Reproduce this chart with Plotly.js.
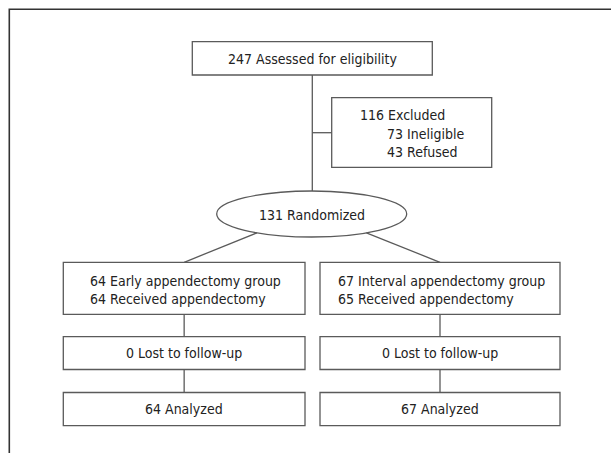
<!DOCTYPE html>
<html>
<head>
<meta charset="utf-8">
<script src="https://cdn.plot.ly/plotly-3.0.1.min.js"></script>
<style>
  html, body { margin: 0; padding: 0; background: #ffffff; }
  #chart { width: 611px; height: 453px; }
</style>
</head>
<body>
<div id="chart"></div>
<script>
// ---- Data (counts) ----
const stageLabels = ["Assessed for eligibility", "Excluded", "Randomized"];
const stageCounts = [247, 116, 131];
const exclusionLabels = ["Ineligible", "Refused"];
const exclusionCounts = [73, 43];
const groupLabels = ["Early appendectomy group", "Interval appendectomy group"];
const groupCounts = [64, 67];
const receivedLabel = "Received appendectomy";
const receivedCounts = [64, 65];
const lostLabel = "Lost to follow-up";
const lostCounts = [0, 0];
const analyzedLabel = "Analyzed";
const analyzedCounts = [64, 67];

// ---- Layout geometry (pixel space of the 611x453 figure) ----
const FONT = { family: '"DejaVu Sans Condensed", "DejaVu Sans", sans-serif', size: 14, color: '#222222' };
const BOX_LINE = { color: '#5a5a5a', width: 1.3 };
const topBox = { x0: 192.3, x1: 432.3, y0: 41.7, y1: 75 };
const exclBox = { x0: 331.7, x1: 491.7, y0: 97.7, y1: 167.3 };
const ell = { cx: 311.7, cy: 214, rx: 95, ry: 23 };
const colX = [[63.3, 305], [320, 560]];
const rowY = [[262.3, 314.3], [336.7, 369.5], [392.5, 425.7]];
const spineX = 312.3;

const shapes = [];
const annotations = [];

function rect(b) {
  shapes.push({ type: 'rect', xref: 'x', yref: 'y', x0: b.x0, x1: b.x1, y0: b.y0, y1: b.y1, line: BOX_LINE, fillcolor: 'rgba(0,0,0,0)' });
}
function line(x0, y0, x1, y1, ln) {
  shapes.push({ type: 'line', xref: 'x', yref: 'y', x0, y0, x1, y1, line: ln || BOX_LINE });
}
function label(text, x, y, anchor) {
  annotations.push({ xref: 'x', yref: 'y', x, y, text, showarrow: false, borderpad: 0, xanchor: anchor || 'center', yanchor: 'middle', font: FONT });
}

// outer frame (top and left rules)
shapes.push({ type: 'path', xref: 'x', yref: 'y', path: 'M9.3,470 L9.3,9.3 L630,9.3', line: { color: '#333333', width: 1.6 } });

// top box
rect(topBox);
label(stageCounts[0] + ' ' + stageLabels[0], (topBox.x0 + topBox.x1) / 2, 58.5);

// spine down to the ellipse
line(spineX, topBox.y1, spineX, ell.cy - ell.ry);
// exclusion box
line(spineX, 132.7, exclBox.x0, 132.7);
rect(exclBox);
label(stageCounts[1] + ' ' + stageLabels[1], 358.5, 115, 'left');
exclusionLabels.forEach((lab, i) => label(exclusionCounts[i] + ' ' + lab, 386, 134 + i * 18, 'left'));

// randomized ellipse
shapes.push({ type: 'circle', xref: 'x', yref: 'y', x0: ell.cx - ell.rx, x1: ell.cx + ell.rx, y0: ell.cy - ell.ry, y1: ell.cy + ell.ry, line: BOX_LINE, fillcolor: 'rgba(0,0,0,0)' });
label(stageCounts[2] + ' ' + stageLabels[2], ell.cx, ell.cy + 0.5);

// arms
groupLabels.forEach((g, i) => {
  const [x0, x1] = colX[i];
  const cx = (x0 + x1) / 2;
  const dx = (i === 0 ? -1 : 1) * 54.7;
  const dy = ell.ry * Math.sqrt(1 - (dx / ell.rx) ** 2);
  line(ell.cx + dx, ell.cy + dy, cx, rowY[0][0]);
  rowY.forEach(([y0, y1]) => rect({ x0, x1, y0, y1 }));
  line(cx, rowY[0][1], cx, rowY[1][0]);
  line(cx, rowY[1][1], cx, rowY[2][0]);
  const tx = x0 + (i === 0 ? 25.5 : 17);
  label(groupCounts[i] + ' ' + g, tx, 280.5, 'left');
  label(receivedCounts[i] + ' ' + receivedLabel, tx, 298.5, 'left');
  label(lostCounts[i] + ' ' + lostLabel, cx, (rowY[1][0] + rowY[1][1]) / 2);
  label(analyzedCounts[i] + ' ' + analyzedLabel, cx, (rowY[2][0] + rowY[2][1]) / 2);
});

const layout = {
  width: 611, height: 453,
  margin: { l: 0, r: 0, t: 0, b: 0, pad: 0 },
  paper_bgcolor: '#ffffff', plot_bgcolor: '#ffffff',
  showlegend: false,
  xaxis: { range: [0, 611], visible: false, fixedrange: true },
  yaxis: { range: [453, 0], visible: false, fixedrange: true },
  shapes, annotations
};

Plotly.newPlot('chart', [{ x: [], y: [], type: 'scatter', mode: 'markers', hoverinfo: 'skip' }], layout, { staticPlot: true, displayModeBar: false });
</script>
</body>
</html>
